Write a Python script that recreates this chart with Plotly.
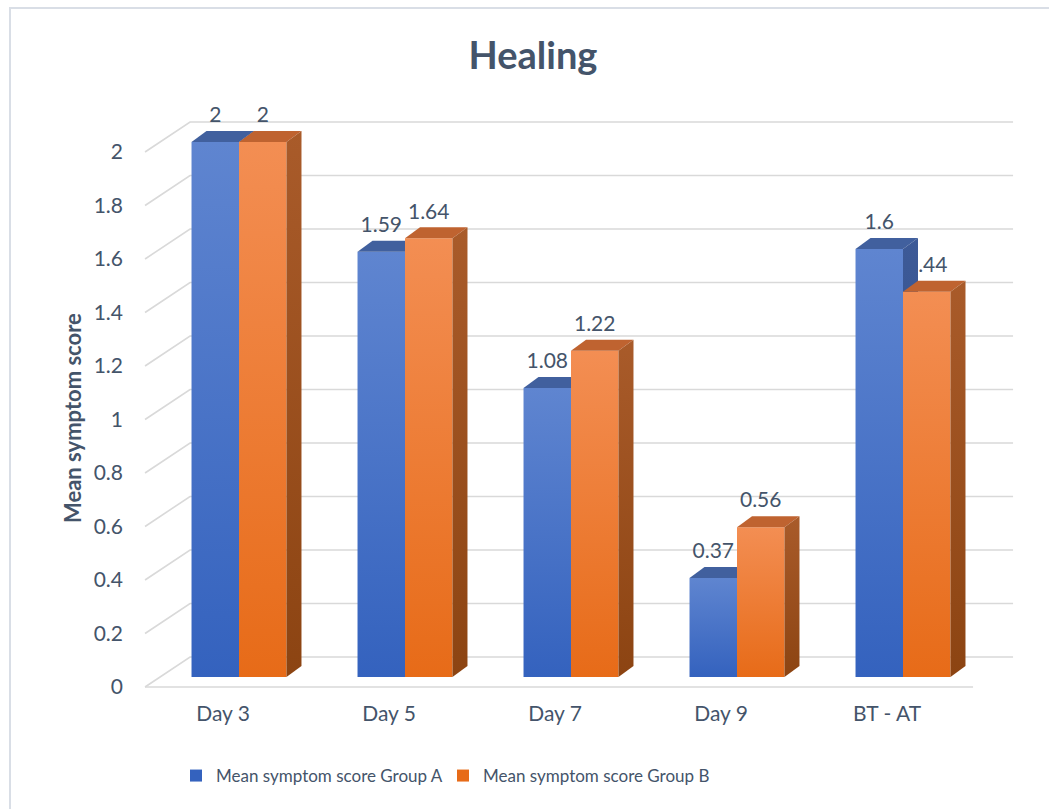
import plotly.graph_objects as go

# ---- data ----
categories = ["Day 3", "Day 5", "Day 7", "Day 9", "BT - AT"]
group_a = [2, 1.59, 1.08, 0.37, 1.6]
group_b = [2, 1.64, 1.22, 0.56, 1.44]
series_names = ["Mean symptom score Group A", "Mean symptom score Group B"]
y_ticks = [0, 0.2, 0.4, 0.6, 0.8, 1, 1.2, 1.4, 1.6, 1.8, 2]
y_tick_labels = ["0", "0.2", "0.4", "0.6", "0.8", "1", "1.2", "1.4", "1.6", "1.8", "2"]

# ---- styling ----
FONT = "Lato"
TEXT_COLOR = "#44546A"
GRID_COLOR = "#D9D9D9"
FACE_COLORS = [
    dict(front=("#3462BE", "#5F85D0"), top="#41609E", side=("#2C4A86", "#3D5A97")),
    dict(front=("#E76B18", "#F38E53"), top="#BF6330", side=("#8C4412", "#A95B2A")),
]

W, H = 1049, 809
M_L, M_R, M_T, M_B = 130, 20, 100, 110
PX_X = 166.0    # pixels per category step
PX_Y = 267.5    # pixels per unit of score

# 3D pseudo-perspective offsets, in axis units
BAR_W = 0.286
DEPTH_X = 15 / PX_X
DEPTH_Y = 11 / PX_Y
FLOOR_FRONT = -10 / PX_Y
WALL_BACK = 20 / PX_Y
WALL_LEFT_FRONT = -0.566
WALL_LEFT_BACK = -0.295
WALL_RIGHT = 4.663
FLOOR_RIGHT = 4.422
LABEL_LIFT = 25 / PX_Y
XLABEL_SHIFT = -0.096

plot_w = W - M_L - M_R
plot_h = H - M_T - M_B
plot_bottom = H - M_B
x0 = (M_L - 239) / PX_X
x_range = [x0, x0 + plot_w / PX_X]
y0 = (677 - plot_bottom) / PX_Y
y_range = [y0, y0 + plot_h / PX_Y]


def paper_x(px):
    return (px - M_L) / plot_w


def paper_y(py):
    return (plot_bottom - py) / plot_h


fig = go.Figure()

# back wall / floor grid: short diagonal from the front edge, then along the back wall
gx, gy = [], []
for v in y_ticks:
    gx += [WALL_LEFT_FRONT, WALL_LEFT_BACK, WALL_RIGHT, None]
    gy += [v + FLOOR_FRONT, v + WALL_BACK, v + WALL_BACK, None]
gx += [WALL_LEFT_FRONT, FLOOR_RIGHT]
gy += [FLOOR_FRONT, FLOOR_FRONT]
fig.add_trace(go.Scatter(x=gx, y=gy, mode="lines", line=dict(color=GRID_COLOR, width=1.6),
                         hoverinfo="skip", showlegend=False))

series = [group_a, group_b]
offsets = [-BAR_W / 2, BAR_W / 2]

# value labels (drawn before the bars so the solid faces sit on top of them)
for s, vals in enumerate(series):
    fig.add_trace(go.Scatter(
        x=[i + offsets[s] for i in range(len(categories))],
        y=[v + LABEL_LIFT for v in vals],
        mode="text", text=[f"{v:g}" for v in vals], textposition="middle center",
        textfont=dict(family=FONT, size=21, color=TEXT_COLOR),
        hoverinfo="skip", showlegend=False, cliponaxis=False))

# 3D bars: front face with vertical gradient, top face and right side face
for i in range(len(categories)):
    for s, vals in enumerate(series):
        v = vals[i]
        c = FACE_COLORS[s]
        a = i + offsets[s] - BAR_W / 2
        b = i + offsets[s] + BAR_W / 2
        fig.add_trace(go.Scatter(
            x=[a, b, b, a, a], y=[0, 0, v, v, 0], mode="lines", fill="toself",
            line=dict(width=0), fillgradient=dict(type="vertical",
                                                  colorscale=[[0, c["front"][0]], [1, c["front"][1]]]),
            hovertemplate=f"{categories[i]}<br>{series_names[s]}: {v}<extra></extra>",
            showlegend=False))
        fig.add_trace(go.Scatter(
            x=[a, b, b + DEPTH_X, a + DEPTH_X, a], y=[v, v, v + DEPTH_Y, v + DEPTH_Y, v],
            mode="lines", fill="toself", fillcolor=c["top"], line=dict(width=0),
            hoverinfo="skip", showlegend=False))
        fig.add_trace(go.Scatter(
            x=[b, b + DEPTH_X, b + DEPTH_X, b, b], y=[0, DEPTH_Y, v + DEPTH_Y, v, 0],
            mode="lines", fill="toself", line=dict(width=0),
            fillgradient=dict(type="vertical", colorscale=[[0, c["side"][0]], [1, c["side"][1]]]),
            hoverinfo="skip", showlegend=False))

# legend entries
for s, name in enumerate(series_names):
    fig.add_trace(go.Scatter(x=[None], y=[None], mode="markers", name=name,
                             marker=dict(symbol="square", size=12, color=FACE_COLORS[s]["front"][0])))

# chart border
fig.add_shape(type="rect", xref="paper", yref="paper",
              x0=paper_x(10), x1=paper_x(W + 5), y0=paper_y(H + 5), y1=paper_y(8),
              line=dict(color="#D9DEE6", width=2), layer="below")

# vertical axis title
fig.add_annotation(text="<b>Mean symptom score</b>", xref="paper", yref="paper",
                   x=paper_x(72), y=paper_y(418), xanchor="center", yanchor="middle",
                   textangle=-90, showarrow=False,
                   font=dict(family=FONT, size=22, color=TEXT_COLOR))

fig.update_layout(
    width=W, height=H,
    margin=dict(l=M_L, r=M_R, t=M_T, b=M_B),
    paper_bgcolor="white", plot_bgcolor="white",
    font=dict(family=FONT, color=TEXT_COLOR),
    title=dict(text="<b>Healing</b>", x=533 / W, xanchor="center", y=1 - 56 / H, yanchor="middle",
               font=dict(family=FONT, size=38, color=TEXT_COLOR)),
    xaxis=dict(range=x_range, tickvals=[i + XLABEL_SHIFT for i in range(len(categories))],
               ticktext=categories, showgrid=False, zeroline=False, showline=False,
               tickfont=dict(family=FONT, size=21, color=TEXT_COLOR), fixedrange=True),
    yaxis=dict(range=y_range, tickvals=[v + FLOOR_FRONT for v in y_ticks], ticktext=y_tick_labels,
               showgrid=False, zeroline=False, showline=False, ticklabelstandoff=6,
               tickfont=dict(family=FONT, size=21, color=TEXT_COLOR), fixedrange=True),
    legend=dict(orientation="h", x=paper_x(176), xanchor="left",
                y=paper_y(776), yanchor="middle", entrywidth=222,
                font=dict(family=FONT, size=17, color=TEXT_COLOR), itemwidth=30),
    showlegend=True,
)

fig.write_html("out.html")
